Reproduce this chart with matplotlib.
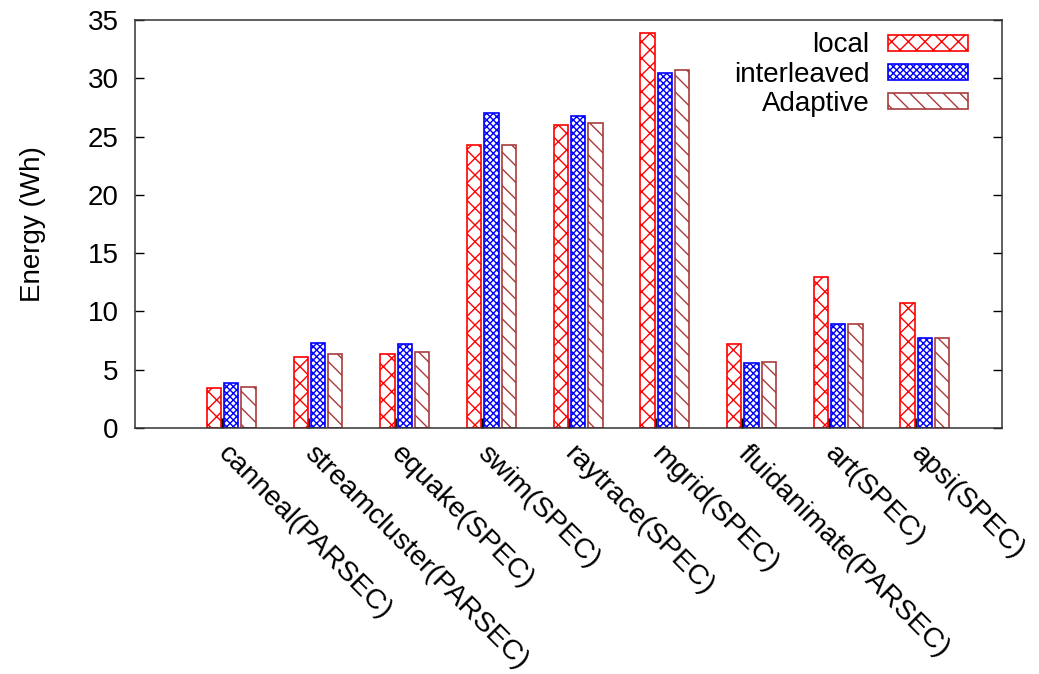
import numpy as np
import matplotlib
matplotlib.use("Agg")
import matplotlib.pyplot as plt

plt.rcParams['font.family'] = ['Liberation Sans', 'DejaVu Sans']
plt.rcParams['hatch.linewidth'] = 1.0

# data
benchmarks = ['canneal(PARSEC)', 'streamcluster(PARSEC)', 'equake(SPEC)',
              'swim(SPEC)', 'raytrace(SPEC)', 'mgrid(SPEC)',
              'fluidanimate(PARSEC)', 'art(SPEC)', 'apsi(SPEC)']
local = [3.4, 6.1, 6.35, 24.25, 26.0, 33.9, 7.2, 13.0, 10.7]
interleaved = [3.9, 7.3, 7.2, 27.05, 26.8, 30.5, 5.6, 8.95, 7.7]
adaptive = [3.5, 6.35, 6.5, 24.25, 26.2, 30.7, 5.7, 8.95, 7.7]

series = [('local', local, '#ff0000', 'xx'),
          ('interleaved', interleaved, '#0000ff', 'xxxxx'),
          ('Adaptive', adaptive, '#a83c3c', '\\\\')]

fs = 20

fig = plt.figure(figsize=(10.39, 6.74), dpi=100)
ax = fig.add_axes([0.130, 0.365, 0.8344, 0.605])

x = np.arange(len(benchmarks))
width = 0.165
offsets = [-0.09, 0.11, 0.31]

for (name, vals, col, hatch), off in zip(series, offsets):
    ax.bar(x + off, vals, width, facecolor='white', edgecolor=col,
           hatch=hatch, linewidth=1.2, label=name, zorder=2)

ax.set_xlim(-1, 9)
ax.set_ylim(0, 35)
ax.set_yticks(np.arange(0, 36, 5))
ax.set_xticks(x)
ax.set_xticklabels(benchmarks, rotation=-45, ha='left', va='center',
                   rotation_mode='anchor', fontsize=20.5)
ax.tick_params(axis='x', direction='in', length=7, width=2, pad=16,
               color='black', top=False)
ax.tick_params(axis='y', direction='in', length=6.5, width=1, pad=12,
               labelsize=fs, left=True, right=True)
for s in ax.spines.values():
    s.set_linewidth(1.1)
    s.set_color('#333333')

ax.set_ylabel('Energy (Wh)', fontsize=fs, labelpad=30)

leg = ax.legend(loc='upper right', bbox_to_anchor=(0.961, 0.97), frameon=False,
                markerfirst=False, fontsize=fs, handlelength=2.9,
                handleheight=0.5, labelspacing=0.12, handletextpad=0.65,
                borderaxespad=0, borderpad=0)

fig.savefig('out.png', dpi=100)
